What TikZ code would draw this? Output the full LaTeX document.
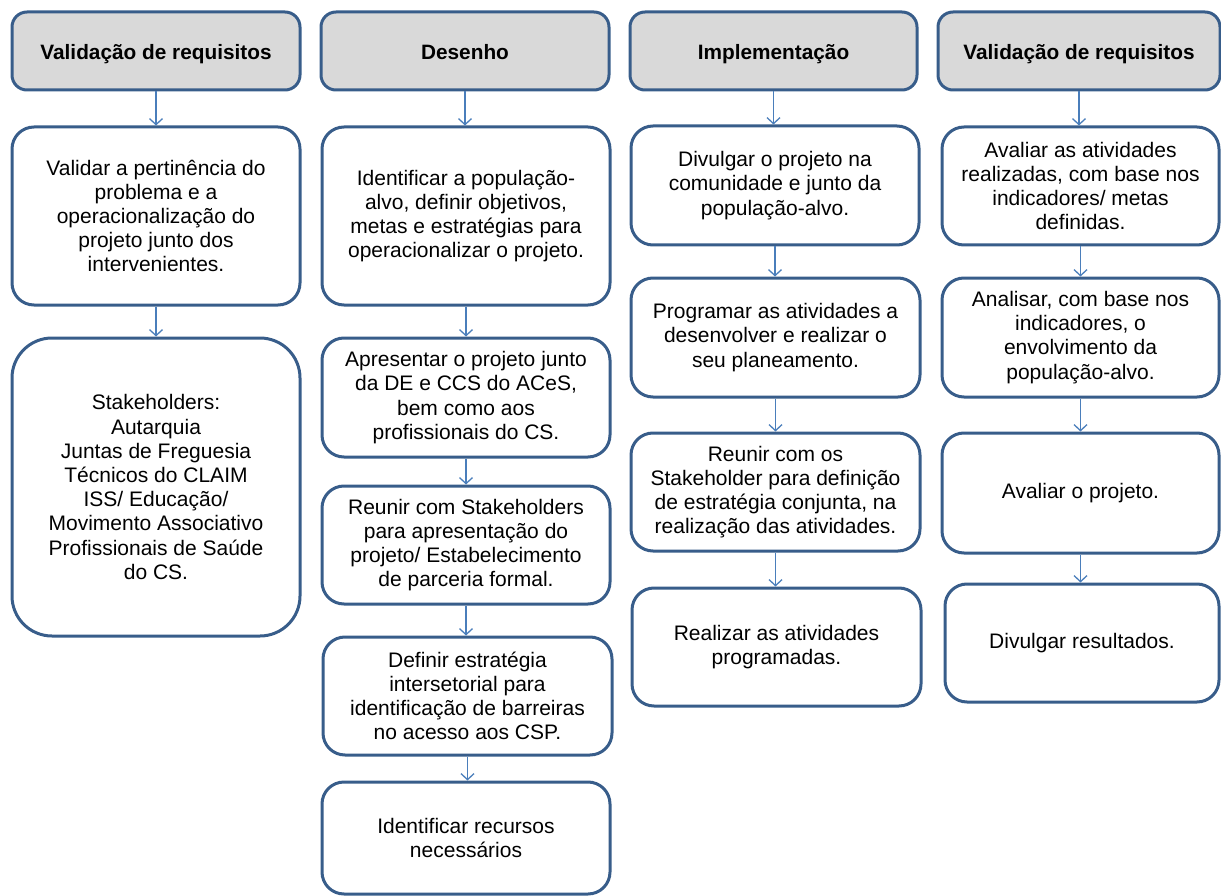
\documentclass[tikz,border=0pt]{standalone}
\usepackage{fontspec}
\setmainfont{Liberation Sans}
\usetikzlibrary{arrows.meta}
\definecolor{bord}{RGB}{56,93,138}
\definecolor{arrc}{RGB}{74,126,187}
\definecolor{hfill}{RGB}{217,217,217}
\tikzset{
  base/.style={draw=bord, line width=3pt, align=center, inner sep=0pt, text=black},
  hdr/.style={base, fill=hfill, rounded corners=15pt, text height=17pt, text depth=0pt, font=\fontsize{20.8}{24}\selectfont\bfseries},
  box/.style={base, fill=white, rounded corners=22pt, font=\fontsize{21}{24.2}\selectfont},
  arr/.style={draw=arrc, line width=1.3pt, -{Straight Barb[length=6pt,width=13pt,line width=1.3pt]}},
}
\begin{document}
\begin{tikzpicture}[x=1pt,y=-1pt]
\useasboundingbox (0,0) rectangle (1221,896);
% column 1
\node[hdr, minimum width=288pt, minimum height=78pt] (h1) at (156,51) {Validação de requisitos};
\node[box, minimum width=288pt, minimum height=178pt] (a1) at (156,216) {Validar a pertinência do\\problema e a\\operacionalização do\\projeto junto dos\\intervenientes.};
\node[box, rounded corners=40pt, minimum width=288pt, minimum height=298pt] (a2) at (156,487) {Stakeholders:\\Autarquia\\Juntas de Freguesia\\Técnicos do CLAIM\\ISS/ Educação/\\Movimento Associativo\\Profissionais de Saúde\\do CS.};
% column 2
\node[hdr, minimum width=288pt, minimum height=78pt] (h2) at (465,51) {Desenho};
\node[box, minimum width=288pt, minimum height=178pt] (b1) at (466,216) {Identificar a população-\\alvo, definir objetivos,\\metas e estratégias para\\operacionalizar o projeto.};
\node[box, minimum width=288pt, minimum height=119pt] (b2) at (466,397.5) {Apresentar o projeto junto\\da DE e CCS do ACeS,\\bem como aos\\profissionais do CS.};
\node[box, minimum width=288pt, minimum height=118pt] (b3) at (466,545) {Reunir com Stakeholders\\para apresentação do\\projeto/ Estabelecimento\\de parceria formal.};
\node[box, minimum width=289pt, minimum height=118pt] (b4) at (467.5,696) {Definir estratégia\\intersetorial para\\identificação de barreiras\\no acesso aos CSP.};
\node[box, minimum width=288pt, minimum height=112pt] (b5) at (466,838) {Identificar recursos\\necessários};
% column 3
\node[hdr, minimum width=287pt, minimum height=78pt] (h3) at (773.5,51) {Implementação};
\node[box, minimum width=288pt, minimum height=119pt] (c1) at (775,185.5) {Divulgar o projeto na\\comunidade e junto da\\população-alvo.};
\node[box, minimum width=289pt, minimum height=119pt] (c2) at (775.5,337.5) {Programar as atividades a\\desenvolver e realizar o\\seu planeamento.};
\node[box, minimum width=289pt, minimum height=118pt] (c3) at (775.5,492) {Reunir com os\\Stakeholder para definição\\de estratégia conjunta, na\\realização das atividades.};
\node[box, minimum width=289pt, minimum height=118pt] (c4) at (776.5,647) {Realizar as atividades\\programadas.};
% column 4
\node[hdr, minimum width=282pt, minimum height=78pt] (h4) at (1079,51) {Validação de requisitos};
\node[box, minimum width=277pt, minimum height=118pt] (d1) at (1080.5,186) {Avaliar as atividades\\realizadas, com base nos\\indicadores/ metas\\definidas.};
\node[box, minimum width=277pt, minimum height=119pt] (d2) at (1080.5,337.5) {Analisar, com base nos\\indicadores, o\\envolvimento da\\população-alvo.};
\node[box, minimum width=277pt, minimum height=120pt] (d3) at (1080.5,493) {Avaliar o projeto.};
\node[box, minimum width=274pt, minimum height=118pt] (d4) at (1082,643) {Divulgar resultados.};
% arrows
\foreach \u/\v in {h1/a1,a1/a2,h2/b1,b1/b2,b2/b3,b3/b4,b4/b5,h3/c1,c1/c2,c2/c3,c3/c4,h4/d1,d1/d2,d2/d3,d3/d4}{
  \draw[arr] (\u.south) -- (\u.south |- \v.north);
}
\end{tikzpicture}
\end{document}
